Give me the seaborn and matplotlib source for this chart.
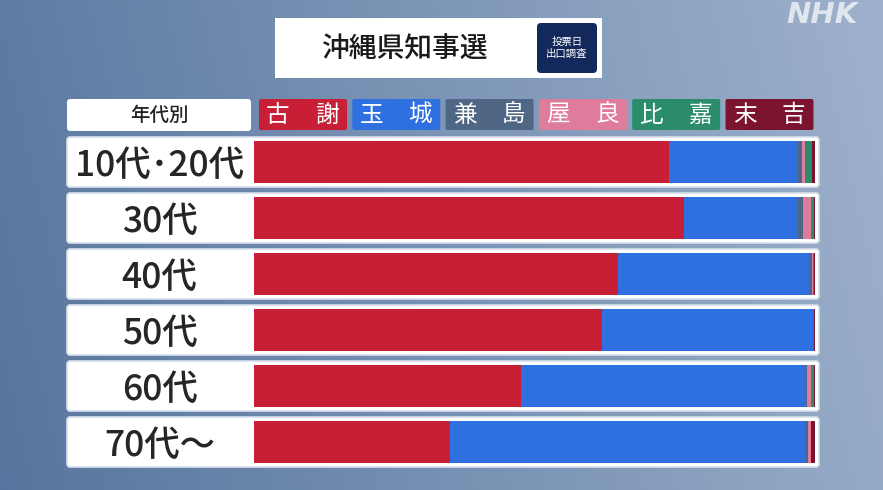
import matplotlib.pyplot as plt
import numpy as np
import pandas as pd
import seaborn as sns
from matplotlib.patches import FancyBboxPatch, Rectangle

# Exit poll by age group (share of vote, %)
ages = ['10代･20代', '30代', '40代', '50代', '60代', '70代～']
candidates = ['古謝', '玉城', '兼島', '屋良', '比嘉', '末吉']
koja = [73.9, 76.6, 64.9, 62.0, 47.6, 34.9]
tamaki = [23.0, 20.4, 34.0, 37.7, 50.8, 63.3]
kaneshima = [0.8, 0.8, 0.5, 0.1, 0.2, 0.5]
yara = [0.6, 1.4, 0.3, 0.1, 0.6, 0.5]
higa = [1.2, 0.6, 0.1, 0.0, 0.7, 0.1]
sueyoshi = [0.5, 0.2, 0.2, 0.1, 0.1, 0.7]
cand_colors = ['#C81E36', '#2F70E0', '#4F6784', '#DF7B9B', '#2B8C6B', '#7C1430']

title = '沖縄県知事選'
badge = '投票日\n出口調査'
header = '年代別'

sns.set_style('white')
plt.rcParams['font.family'] = ['Noto Sans CJK JP', 'DejaVu Sans']

df = pd.DataFrame({'年代': ages, '古謝': koja, '玉城': tamaki, '兼島': kaneshima,
                   '屋良': yara, '比嘉': higa, '末吉': sueyoshi})
cum = df[candidates].cumsum(axis=1)

W, H = 883, 490
fig = plt.figure(figsize=(W / 100, H / 100), dpi=100)

# background panel in pixel coordinates
bg = fig.add_axes([0, 0, 1, 1])
bg.set_xlim(0, W)
bg.set_ylim(H, 0)
bg.axis('off')
gy, gx = np.mgrid[0:1:60j, 0:1:120j]
t = np.clip(gx * 0.8 + (1 - gy) * 0.1, 0, 1)
left_c = np.array([0.34, 0.46, 0.62])
right_c = np.array([0.65, 0.72, 0.82])
bg.imshow(left_c + (right_c - left_c) * t[..., None], extent=[0, W, H, 0],
          aspect='auto', interpolation='bilinear', zorder=0)

# title box
bg.add_patch(Rectangle((275, 18), 327, 60, fc='white', ec='none', zorder=1))
bg.text(404, 49, title, fontsize=20, weight='medium', color='#1a1a1a',
        ha='center', va='center', zorder=2)
bg.add_patch(FancyBboxPatch((537, 23), 60, 50, boxstyle='round,pad=0,rounding_size=4',
                            fc='#13295B', ec='none', zorder=2))
bg.text(567, 48, badge, fontsize=7.5, color='white', ha='center', va='center',
        linespacing=1.15, zorder=3)
bg.text(822, 15, 'NHK', fontsize=21, weight='bold', style='italic', color='white',
        alpha=0.7, ha='center', va='center', family='DejaVu Sans', zorder=1)

# header row: label box + candidate chips
bg.add_patch(FancyBboxPatch((67, 99), 184, 32, boxstyle='round,pad=0,rounding_size=3',
                            fc='white', ec='none', zorder=1))
bg.text(159, 115, header, fontsize=14, weight='medium', color='#222222',
        ha='center', va='center', zorder=2)
chip_w, chip_step = 88, 93.3
for i, (name, col) in enumerate(zip(candidates, cand_colors)):
    x0 = 259 + i * chip_step
    bg.add_patch(FancyBboxPatch((x0, 99), chip_w, 31, boxstyle='round,pad=0,rounding_size=2',
                                fc=col, ec='none', zorder=1))
    cx = x0 + chip_w / 2
    bg.text(cx - 25, 115, name[0], fontsize=17, color='white', ha='center', va='center', zorder=2)
    bg.text(cx + 24, 115, name[1], fontsize=17, color='white', ha='center', va='center', zorder=2)

# white row frames
row_top, row_step = 137, 56
for i in range(len(ages)):
    bg.add_patch(FancyBboxPatch((67, row_top + i * row_step), 752, 50,
                                boxstyle='round,pad=0,rounding_size=3',
                                fc='white', ec='#d6dfeb', lw=1.2, zorder=1))

# stacked bars
ax = fig.add_axes([254 / W, 20 / H, 561 / W, 336 / H])
ax.patch.set_alpha(0)
for name, col in reversed(list(zip(candidates, cand_colors))):
    sns.barplot(x=cum[name], y=df['年代'], orient='h', color=col, saturation=1,
                width=0.75, linewidth=0, errorbar=None, ax=ax)
ax.set(xlim=(0, 100), ylim=(5.5, -0.5), xlabel='', ylabel='')
ax.set_xticks([])
sns.despine(ax=ax, left=True, bottom=True)
ax.tick_params(axis='y', length=0, pad=68, labelsize=25.5)
for lab in ax.get_yticklabels():
    lab.set_horizontalalignment('center')
    lab.set_fontweight('medium')

plt.savefig('out.png', dpi=100)
